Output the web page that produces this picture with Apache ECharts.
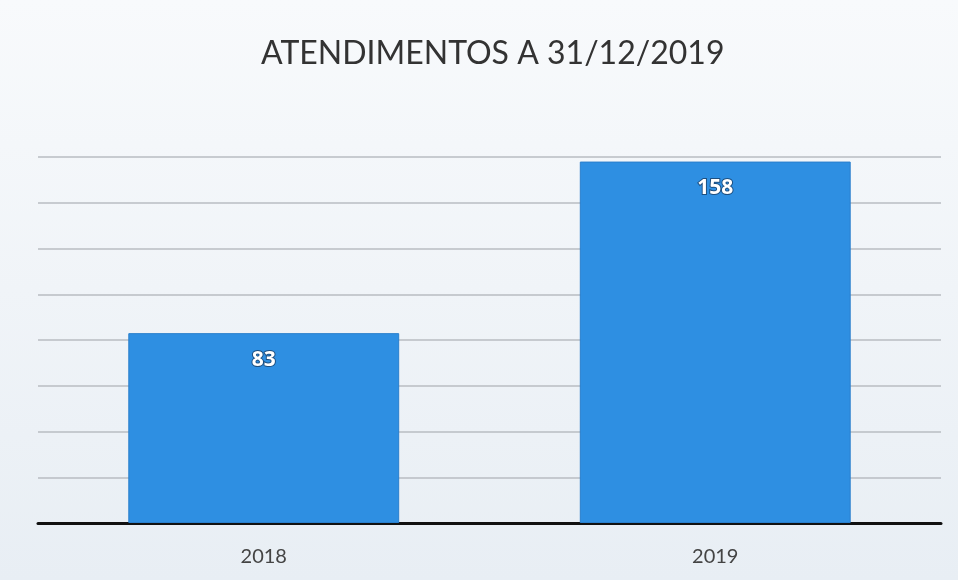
<!DOCTYPE html>
<html>
<head>
<meta charset="utf-8">
<style>
  html, body { margin: 0; padding: 0; }
  #chart { width: 958px; height: 580px; }
</style>
<script src="https://cdn.jsdelivr.net/npm/echarts@6/dist/echarts.min.js"></script>
</head>
<body>
<div id="chart"></div>
<script>
var anos = ['2018', '2019'];
var atendimentos = [83, 158];

var myChart = echarts.init(document.getElementById('chart'));
var option = {
    backgroundColor: {
        type: 'linear', x: 0, y: 0, x2: 0, y2: 1,
        colorStops: [
            { offset: 0, color: '#f8fafc' },
            { offset: 1, color: '#e8eef4' }
        ]
    },
    title: {
        text: 'ATENDIMENTOS A 31/12/2019',
        left: 256,
        top: 33,
        textStyle: { color: '#333', fontSize: 32, fontWeight: 'normal', fontFamily: 'Lato' }
    },
    grid: { left: 38, right: 17, top: 157, bottom: 57 },
    xAxis: {
        type: 'category',
        data: anos,
        axisLine: { lineStyle: { color: '#111', width: 3 } },
        axisTick: { show: false },
        axisLabel: { color: '#444', fontSize: 20, margin: 24, fontFamily: 'Lato' }
    },
    yAxis: {
        type: 'value',
        min: 0,
        max: 160,
        interval: 20,
        axisLabel: { show: false },
        axisLine: { show: false },
        axisTick: { show: false },
        splitLine: { lineStyle: { color: '#b8bcc2', width: 1.5 } }
    },
    series: [{
        type: 'bar',
        data: atendimentos,
        barWidth: '60%',
        itemStyle: { color: '#2e8fe2', borderColor: '#2a7fcc', borderWidth: 1 },
        label: {
            show: true,
            position: 'insideTop',
            distance: 16,
            color: '#fff',
            fontSize: 21,
            fontWeight: 'bold',
            fontFamily: 'Open Sans',
            textBorderColor: '#1d4f80',
            textBorderWidth: 2
        }
    }]
};
myChart.setOption(option);
</script>
</body>
</html>
